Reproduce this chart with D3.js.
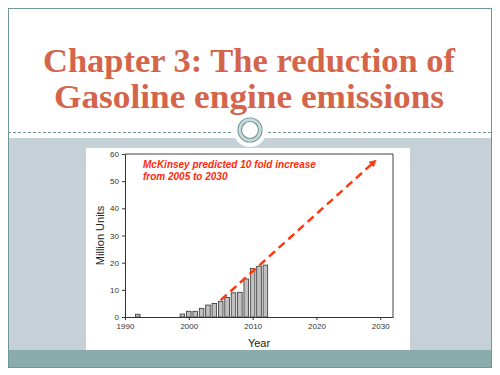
<!DOCTYPE html>
<html>
<head>
<meta charset="utf-8">
<script src="https://cdn.jsdelivr.net/npm/d3@7"></script>
<style>
  body { margin: 0; background: #fff; }
  svg { display: block; }
</style>
</head>
<body>
<div id="chart"></div>
<script>
const years = [1992, 1999, 2000, 2001, 2002, 2003, 2004, 2005, 2006, 2007, 2008, 2009, 2010, 2011, 2012];
const units = [1.0, 1.1, 2.1, 2.1, 3.2, 4.4, 5.0, 5.8, 7.2, 8.9, 9.1, 14.0, 17.9, 18.7, 19.1];
const trendYears = [2005, 2029];
const trendUnits = [6.2, 57];
const xTicks = [1990, 2000, 2010, 2020, 2030];
const yTicks = [0, 10, 20, 30, 40, 50, 60];
const titleLines = ["Chapter 3: The reduction of", "Gasoline engine emissions"];
const noteLines = ["McKinsey predicted 10 fold increase", "from 2005 to 2030"];

const svg = d3.select("#chart")
    .append("svg")
    .attr("width", 500)
    .attr("height", 375);

// slide background
svg.append("rect").attr("x", 0).attr("y", 0).attr("width", 500).attr("height", 375).attr("fill", "#fff");
svg.append("rect").attr("x", 8).attr("y", 138).attr("width", 483).attr("height", 212).attr("fill", "#c5d0d7");
svg.append("rect").attr("x", 8).attr("y", 350).attr("width", 483).attr("height", 17).attr("fill", "#8aadab");
svg.append("rect").attr("x", 8.5).attr("y", 8.5).attr("width", 483).attr("height", 359)
    .attr("fill", "none").attr("stroke", "#6f9797").attr("stroke-width", 1);

// dashed separator + ring
svg.append("line").attr("x1", 8).attr("x2", 491).attr("y1", 132.5).attr("y2", 132.5)
    .attr("stroke", "#6f9797").attr("stroke-dasharray", "3,2");
svg.append("circle").attr("cx", 250).attr("cy", 130).attr("r", 17).attr("fill", "#fff");
svg.append("circle").attr("cx", 250).attr("cy", 130).attr("r", 12)
    .attr("fill", "none").attr("stroke", "#6f9797").attr("stroke-width", 1.2);
svg.append("circle").attr("cx", 250).attr("cy", 130).attr("r", 10)
    .attr("fill", "none").attr("stroke", "#c9d8d8").attr("stroke-width", 2.5);
svg.append("circle").attr("cx", 250).attr("cy", 130).attr("r", 8.5)
    .attr("fill", "#fff").attr("stroke", "#6f9797").attr("stroke-width", 1.2);

// title
svg.selectAll(".title")
    .data(titleLines)
    .enter()
    .append("text")
    .attr("class", "title")
    .attr("x", 249)
    .attr("y", (d, i) => 72 + i * 36)
    .attr("text-anchor", "middle")
    .attr("textLength", (d, i) => i === 0 ? 412 : 390)
    .attr("lengthAdjust", "spacingAndGlyphs")
    .style("font-family", "'Liberation Serif', 'Times New Roman', serif")
    .style("font-weight", "bold")
    .style("font-size", "34px")
    .attr("fill", "#d4654b")
    .text(d => d);

// chart panel
svg.append("rect").attr("x", 86).attr("y", 148).attr("width", 324).attr("height", 202).attr("fill", "#fff");

const margin = { left: 125, top: 154, right: 393, bottom: 317 };

const x = d3.scaleLinear().domain([1990, 2032]).range([margin.left, margin.right]);
const y = d3.scaleLinear().domain([0, 60]).range([margin.bottom, margin.top]);

const graph = svg.append("g");

// plot frame (top + right)
graph.append("path")
    .attr("d", `M${margin.left},${margin.top}H${margin.right}V${margin.bottom}`)
    .attr("fill", "none")
    .attr("stroke", "#444")
    .attr("stroke-width", 1);

const barW = (x(1991) - x(1990)) * 0.72;

graph.selectAll("rect.bar")
    .data(years)
    .enter()
    .append("rect")
    .attr("class", "bar")
    .attr("x", d => x(d) - barW / 2)
    .attr("y", (d, i) => y(units[i]))
    .attr("width", barW)
    .attr("height", (d, i) => y(0) - y(units[i]))
    .attr("fill", "#c0c0c0")
    .attr("stroke", "#333")
    .attr("stroke-width", 0.8);

const xAxisGroup = graph.append("g")
    .attr("transform", `translate(0, ${margin.bottom})`)
    .call(d3.axisBottom(x).tickValues(xTicks).tickFormat(d3.format("d")).tickSize(3).tickSizeOuter(0));

const yAxisGroup = graph.append("g")
    .attr("transform", `translate(${margin.left}, 0)`)
    .call(d3.axisLeft(y).tickValues(yTicks).tickSize(3).tickSizeOuter(0));

[xAxisGroup, yAxisGroup].forEach(g => {
    g.select(".domain").attr("stroke", "#333");
    g.selectAll(".tick line").attr("stroke", "#333");
    g.selectAll("text")
        .style("font-family", "Arial, 'Liberation Sans', sans-serif")
        .style("font-size", "8px")
        .attr("fill", "#333");
});
xAxisGroup.selectAll("text").attr("y", 6);

graph.append("text")
    .attr("x", (margin.left + margin.right) / 2)
    .attr("y", 347)
    .attr("text-anchor", "middle")
    .style("font-family", "Arial, 'Liberation Sans', sans-serif")
    .style("font-size", "11px")
    .attr("fill", "#222")
    .text("Year");

graph.append("text")
    .attr("transform", `translate(104, ${(margin.top + margin.bottom) / 2}) rotate(-90)`)
    .attr("text-anchor", "middle")
    .style("font-family", "Arial, 'Liberation Sans', sans-serif")
    .style("font-size", "11px")
    .attr("fill", "#222")
    .text("Million Units");

// trend arrow
svg.append("defs").append("marker")
    .attr("id", "arrow")
    .attr("viewBox", "0 0 10 10")
    .attr("refX", 5)
    .attr("refY", 5)
    .attr("markerWidth", 3)
    .attr("markerHeight", 3)
    .attr("orient", "auto")
    .append("path")
    .attr("d", "M0,0L10,5L0,10z")
    .attr("fill", "#ff3a10");

const line = d3.line().x(d => x(d[0])).y(d => y(d[1]));

graph.append("path")
    .datum(trendYears.map((d, i) => [d, trendUnits[i]]))
    .attr("d", line)
    .attr("fill", "none")
    .attr("stroke", "#ff3a10")
    .attr("stroke-width", 2.5)
    .attr("stroke-dasharray", "8,5")
    .attr("marker-end", "url(#arrow)");

graph.selectAll(".note")
    .data(noteLines)
    .enter()
    .append("text")
    .attr("class", "note")
    .attr("x", 143)
    .attr("y", (d, i) => 168 + i * 12)
    .style("font-family", "Arial, 'Liberation Sans', sans-serif")
    .style("font-size", "10px")
    .style("font-weight", "bold")
    .style("font-style", "italic")
    .attr("fill", "#ff2a0a")
    .text(d => d);
</script>
</body>
</html>
